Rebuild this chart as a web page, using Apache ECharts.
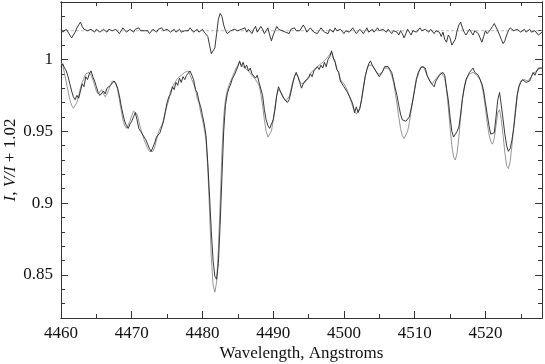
<!DOCTYPE html>
<html>
<head>
<meta charset="utf-8">
<script src="https://cdn.jsdelivr.net/npm/echarts@6/dist/echarts.min.js"></script>
<style>
html,body{margin:0;padding:0;background:#fff;}
#chart{width:545px;height:364px;}
</style>
</head>
<body>
<div id="chart"></div>
<script>
// Sampling grid of the spectra (Angstroms)
const lambdaStart = 4460;
const lambdaStep = 0.25;
const xMin = 4460, xMax = 4528;
const yMin = 0.82, yMax = 1.04;
const vOffset = 1.02;

const xMajorTicks = [4460, 4470, 4480, 4490, 4500, 4510, 4520];
const xMinorTicks = [4465, 4475, 4485, 4495, 4505, 4515, 4525];
const yMajorTicks = [0.85, 0.9, 0.95, 1];
const yMinorTicks = [0.83, 0.84, 0.86, 0.87, 0.88, 0.89, 0.91, 0.92, 0.93, 0.94, 0.96, 0.97, 0.98, 0.99, 1.01, 1.02, 1.03];

// Observed Stokes I (black)
const intensityObs = [
0.995,0.997,0.994,0.992,0.988,0.983,0.978,0.974,0.972,0.975,0.973,0.978,0.983,0.981,0.988,0.986,0.990,0.992,0.988,0.985,
0.981,0.977,0.975,0.974,0.978,0.976,0.980,0.979,0.982,0.983,0.985,0.983,0.980,0.975,0.968,0.962,0.957,0.954,0.952,0.955,
0.957,0.960,0.963,0.958,0.952,0.950,0.948,0.946,0.944,0.941,0.938,0.936,0.937,0.942,0.946,0.947,0.949,0.950,0.957,0.964,
0.970,0.974,0.976,0.981,0.979,0.984,0.982,0.987,0.984,0.988,0.986,0.989,0.990,0.992,0.989,0.986,0.979,0.977,0.971,0.967,
0.961,0.955,0.947,0.928,0.905,0.880,0.860,0.849,0.847,0.858,0.885,0.918,0.950,0.968,0.976,0.980,0.983,0.987,0.989,0.992,
0.995,0.999,0.995,0.998,0.994,0.996,0.992,0.994,0.990,0.991,0.987,0.989,0.984,0.983,0.975,0.965,0.958,0.954,0.952,0.955,
0.958,0.965,0.975,0.981,0.978,0.975,0.973,0.972,0.970,0.972,0.977,0.983,0.988,0.991,0.988,0.984,0.980,0.983,0.985,0.984,
0.987,0.990,0.988,0.992,0.991,0.995,0.993,0.996,0.994,0.998,0.995,1.000,1.002,1.006,1.001,0.998,0.993,0.991,0.985,0.985,
0.981,0.982,0.977,0.977,0.972,0.969,0.963,0.967,0.963,0.966,0.972,0.980,0.988,0.993,0.997,0.999,0.996,0.996,0.992,0.991,
0.988,0.989,0.992,0.995,0.996,0.995,0.993,0.991,0.986,0.980,0.975,0.968,0.962,0.958,0.957,0.957,0.958,0.960,0.966,0.972,
0.979,0.986,0.991,0.992,0.995,0.994,0.994,0.989,0.988,0.984,0.984,0.981,0.985,0.986,0.989,0.988,0.991,0.989,0.980,0.972,
0.960,0.950,0.946,0.947,0.950,0.953,0.962,0.973,0.980,0.986,0.987,0.991,0.991,0.994,0.991,0.992,0.989,0.989,0.983,0.978,
0.970,0.962,0.954,0.948,0.947,0.949,0.960,0.972,0.977,0.968,0.958,0.948,0.940,0.936,0.938,0.944,0.952,0.963,0.975,0.981,
0.984,0.986,0.985,0.984,0.983,0.985,0.988,0.991,0.989,0.992,0.994,0.993,0.994
];

// Model Stokes I (grey)
const intensityModel = [
0.998,0.996,0.990,0.984,0.978,0.972,0.968,0.966,0.967,0.970,0.975,0.980,0.984,0.987,0.990,0.991,0.991,0.989,0.986,0.982,
0.978,0.976,0.977,0.979,0.976,0.974,0.976,0.979,0.982,0.985,0.986,0.984,0.979,0.972,0.965,0.958,0.954,0.952,0.953,0.957,
0.961,0.964,0.965,0.962,0.957,0.952,0.948,0.944,0.941,0.938,0.936,0.935,0.936,0.939,0.944,0.949,0.952,0.954,0.958,0.963,
0.968,0.972,0.978,0.979,0.983,0.983,0.987,0.986,0.989,0.988,0.991,0.990,0.992,0.989,0.989,0.983,0.980,0.973,0.970,0.963,
0.958,0.952,0.944,0.925,0.895,0.862,0.843,0.838,0.845,0.868,0.900,0.935,0.960,0.972,0.978,0.982,0.985,0.988,0.991,0.994,
0.996,0.998,0.996,0.997,0.994,0.995,0.992,0.993,0.989,0.990,0.986,0.986,0.982,0.976,0.968,0.958,0.950,0.946,0.945,0.950,
0.958,0.967,0.975,0.979,0.979,0.976,0.973,0.971,0.971,0.974,0.979,0.984,0.988,0.990,0.988,0.985,0.983,0.983,0.984,0.986,
0.988,0.990,0.990,0.993,0.992,0.995,0.994,0.997,0.996,0.999,0.998,1.002,1.002,1.005,1.001,0.999,0.993,0.991,0.986,0.986,
0.983,0.981,0.978,0.975,0.971,0.967,0.964,0.962,0.962,0.966,0.973,0.981,0.988,0.993,0.996,0.997,0.996,0.994,0.992,0.990,
0.989,0.990,0.992,0.994,0.995,0.994,0.992,0.989,0.984,0.977,0.969,0.960,0.952,0.947,0.945,0.946,0.950,0.956,0.964,0.972,
0.980,0.987,0.989,0.994,0.993,0.995,0.992,0.991,0.986,0.986,0.983,0.985,0.984,0.988,0.988,0.991,0.989,0.987,0.979,0.967,
0.953,0.940,0.932,0.930,0.935,0.946,0.960,0.972,0.980,0.985,0.988,0.990,0.991,0.991,0.990,0.989,0.988,0.986,0.982,0.975,
0.966,0.956,0.948,0.943,0.941,0.945,0.954,0.963,0.965,0.958,0.947,0.935,0.926,0.924,0.929,0.940,0.953,0.966,0.976,0.982,
0.985,0.986,0.986,0.985,0.985,0.986,0.988,0.990,0.991,0.992,0.993,0.994,0.994
];

// Observed Stokes V/I (plotted shifted by +1.02)
const vOverI = [
0.001,-0.001,0,0.001,-0.001,-0.003,-0.005,-0.004,-0.001,0.002,0.004,0.006,0.003,0.001,0.002,0,-0.001,0.001,0,-0.001,
0.001,0,-0.001,0,0.001,0,-0.001,0.001,0.002,0,-0.001,0.001,0,-0.002,0,0.002,0.001,-0.001,0,0.001,
0,-0.001,0.001,0,0.002,0,-0.001,0,0.001,0,-0.002,-0.001,0.001,0,-0.001,0.001,0,0.002,0,-0.001,
0.001,0,-0.001,0,0.001,-0.001,0,0.001,-0.001,-0.002,0,0.001,0,0.002,0.001,-0.001,0,0.001,-0.001,0,
0.001,-0.001,0,-0.004,-0.010,-0.016,-0.017,-0.012,-0.002,0.008,0.012,0.010,0.004,0,-0.002,-0.001,0,-0.001,0.001,0.002,
0,-0.001,0.001,0,0.002,-0.001,0.001,0,-0.002,0.001,0.003,-0.001,0,0.003,0.001,-0.002,0,0.002,-0.003,-0.007,
-0.003,0,0.003,0.001,0.002,0,0.001,-0.001,0,-0.002,0.001,0,0.002,0,-0.001,0,0.001,0.004,0.002,-0.001,
0,0.002,0.001,-0.001,0,-0.002,0,0.002,0.001,-0.001,0,-0.002,0.001,0,-0.001,0.002,0,-0.001,0.001,0,
-0.002,0,0.001,-0.001,0,0.002,0,-0.002,-0.001,0.001,0,-0.002,0,0.002,-0.001,0,0.001,-0.001,0,0.002,
0,-0.001,0.001,0,-0.001,0.001,0,-0.002,0,0.001,-0.001,-0.003,0,-0.002,-0.005,-0.002,0.001,-0.001,-0.003,0,
0.001,-0.001,0,0.002,0,-0.001,0.001,0,-0.001,0.001,0,-0.002,0,0.001,-0.001,-0.004,-0.001,-0.006,-0.008,-0.003,
-0.005,-0.010,-0.011,-0.006,0,0.004,0.006,0.002,-0.001,-0.003,-0.001,0.001,-0.001,-0.003,0,0.001,-0.002,-0.005,-0.008,-0.004,
0,-0.002,-0.001,0.001,0.003,0.005,0.004,0,-0.003,-0.006,-0.009,-0.007,-0.003,0,0.002,0.001,0,-0.001,0.001,0,
-0.001,0,0.001,-0.001,0,0.001,-0.001,-0.002,0,-0.001,-0.003,-0.002,-0.001
];

const FONT = '"Liberation Serif", "Times New Roman", serif';
const AXIS_COLOR = '#333';
const TEXT_COLOR = '#111';

function pairs(values, offset) {
  return values.map((v, i) => [lambdaStart + i * lambdaStep, +(v + (offset || 0)).toFixed(4)]);
}

function xAxisDef(position, ticks, len, withLabels) {
  return {
    type: 'value', position: position, min: xMin, max: xMax,
    axisLine: { show: true, onZero: false, lineStyle: { color: AXIS_COLOR, width: 1 } },
    axisTick: { show: true, inside: true, length: len, customValues: ticks, lineStyle: { color: AXIS_COLOR, width: 1 } },
    axisLabel: { show: withLabels, customValues: ticks, margin: 7, fontFamily: FONT, fontSize: 17, color: TEXT_COLOR,
                 formatter: v => String(v) },
    splitLine: { show: false }
  };
}
function yAxisDef(position, ticks, len, withLabels) {
  return {
    type: 'value', position: position, min: yMin, max: yMax,
    axisLine: { show: true, onZero: false, lineStyle: { color: AXIS_COLOR, width: 1 } },
    axisTick: { show: true, inside: true, length: len, customValues: ticks, lineStyle: { color: AXIS_COLOR, width: 1 } },
    axisLabel: { show: withLabels, customValues: ticks, margin: 8, fontFamily: FONT, fontSize: 17, color: TEXT_COLOR,
                 formatter: v => String(v) },
    splitLine: { show: false }
  };
}

const xMain = xAxisDef('bottom', xMajorTicks, 7, true);
xMain.name = 'Wavelength, Angstroms';
xMain.nameLocation = 'middle';
xMain.nameGap = 27;
xMain.nameMoveOverlap = false;
xMain.nameTextStyle = { fontFamily: FONT, fontSize: 17, color: TEXT_COLOR };

const yMain = yAxisDef('left', yMajorTicks, 7, true);
yMain.name = '{i|I}, {i|V/I} + 1.02';
yMain.nameLocation = 'middle';
yMain.nameGap = 42;
yMain.nameRotate = 90;
yMain.nameMoveOverlap = false;
yMain.nameTextStyle = {
  fontFamily: FONT, fontSize: 17, color: TEXT_COLOR,
  rich: { i: { fontFamily: FONT, fontSize: 17, fontStyle: 'italic', color: TEXT_COLOR } }
};

const option = {
  animation: false,
  backgroundColor: '#fff',
  grid: { left: 61, right: 3, top: 2, bottom: 46, containLabel: false, outerBoundsMode: 'none' },
  xAxis: [
    xMain,
    xAxisDef('bottom', xMinorTicks, 4, false),
    xAxisDef('top', xMajorTicks, 7, false),
    xAxisDef('top', xMinorTicks, 4, false)
  ],
  yAxis: [
    yMain,
    yAxisDef('left', yMinorTicks, 4, false),
    yAxisDef('right', yMajorTicks, 7, false),
    yAxisDef('right', yMinorTicks, 4, false)
  ],
  series: [
    {
      name: 'reference', type: 'line', xAxisIndex: 0, yAxisIndex: 0,
      data: [[xMin, vOffset], [xMax, vOffset]],
      showSymbol: false, symbol: 'none',
      lineStyle: { color: '#aaa', width: 0.8, type: [3, 2] }, z: 1
    },
    {
      name: 'model', type: 'line', xAxisIndex: 0, yAxisIndex: 0,
      data: pairs(intensityModel), showSymbol: false, symbol: 'none',
      lineStyle: { color: '#8a8a8a', width: 0.9 }, z: 2
    },
    {
      name: 'observed', type: 'line', xAxisIndex: 0, yAxisIndex: 0,
      data: pairs(intensityObs), showSymbol: false, symbol: 'none',
      lineStyle: { color: '#222', width: 0.9 }, z: 3
    },
    {
      name: 'V/I', type: 'line', xAxisIndex: 0, yAxisIndex: 0,
      data: pairs(vOverI, vOffset), showSymbol: false, symbol: 'none',
      lineStyle: { color: '#222', width: 0.9 }, z: 3
    }
  ]
};

const chart = echarts.init(document.getElementById('chart'), null, { renderer: 'canvas' });
chart.setOption(option);
</script>
</body>
</html>
